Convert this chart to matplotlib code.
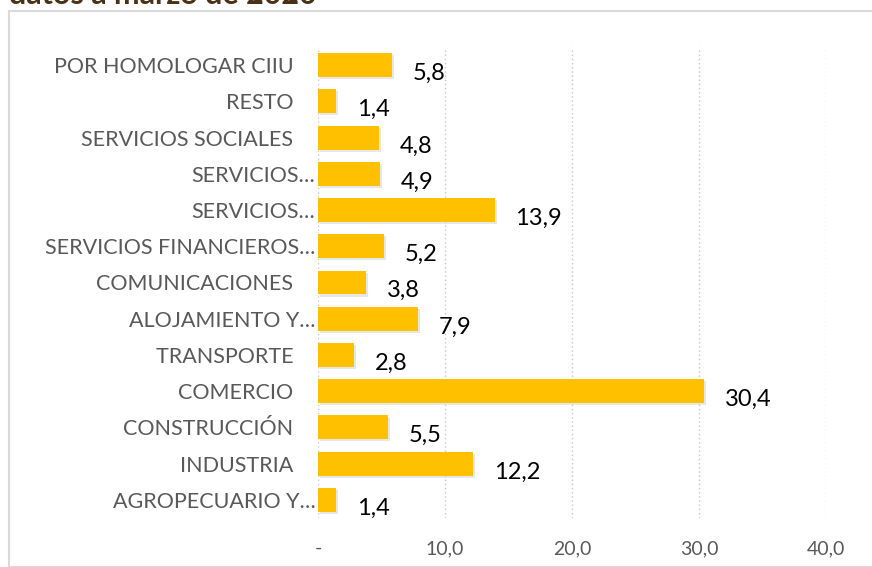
import matplotlib
matplotlib.use("Agg")
import matplotlib.pyplot as plt
import matplotlib.patheffects as pe
from matplotlib.patches import Rectangle

categorias = ["AGROPECUARIO Y…", "INDUSTRIA    ", "CONSTRUCCIÓN    ", "COMERCIO    ",
              "TRANSPORTE    ", "ALOJAMIENTO Y…", "COMUNICACIONES    ",
              "SERVICIOS FINANCIEROS…", "SERVICIOS…", "SERVICIOS…",
              "SERVICIOS SOCIALES    ", "RESTO    ", "POR HOMOLOGAR CIIU    "]
valores = [1.4, 12.2, 5.5, 30.4, 2.8, 7.9, 3.8, 5.2, 13.9, 4.9, 4.8, 1.4, 5.8]
ticks_x = [0, 10, 20, 30, 40]
ticks_txt = ["-", "10,0", "20,0", "30,0", "40,0"]

W, H = 872, 567
fig = plt.figure(figsize=(W / 100, H / 100), dpi=100)
fig.patch.set_facecolor("white")

# marco del grafico
fig.patches.append(Rectangle((9 / W, 0), 1, 1 - 11 / H, transform=fig.transFigure,
                             fill=False, edgecolor="#d9d9d9", lw=1.5))

# titulo (cortado arriba como en el original)
fig.text(9 / W, 1 - 4 / H, "datos a marzo de 2020", fontsize=22, fontweight="bold",
         color="#4a3216", family="Lato", va="baseline", ha="left")

ax = fig.add_axes([318 / W, 1 - 518 / H, (826 - 318) / W, (518 - 47) / H])
y = range(len(categorias))
bars = ax.barh(y, valores, height=0.66, color="#FFC000", zorder=3)
for b in bars:
    b.set_path_effects([pe.SimplePatchShadow(offset=(1.5, -1.5), shadow_rgbFace="#d0d0d0", alpha=0.5),
                        pe.Normal()])

for yi, v in zip(y, valores):
    ax.annotate(f"{v:.1f}".replace(".", ","), (v, yi), xytext=(15, -6),
                textcoords="offset points", ha="left", va="center",
                fontsize=17, color="black", family="Lato")

ax.set_xlim(0, 40)
ax.set_ylim(-0.5, len(categorias) - 0.5)
ax.set_xticks(ticks_x)
ax.set_xticklabels(ticks_txt)
ax.set_yticks(list(y))
ax.set_yticklabels(categorias)
ax.grid(axis="x", color="#c8c8c8", linestyle=(0, (1, 2)), lw=1, zorder=0)
for s in ax.spines.values():
    s.set_visible(False)
ax.tick_params(axis="both", length=0)
ax.tick_params(axis="x", pad=16, labelsize=14, labelcolor="#595959")
ax.tick_params(axis="y", pad=2, labelsize=15.5, labelcolor="#595959")
for t in ax.get_xticklabels() + ax.get_yticklabels():
    t.set_family("Lato")

fig.savefig("out.png", dpi=100)
